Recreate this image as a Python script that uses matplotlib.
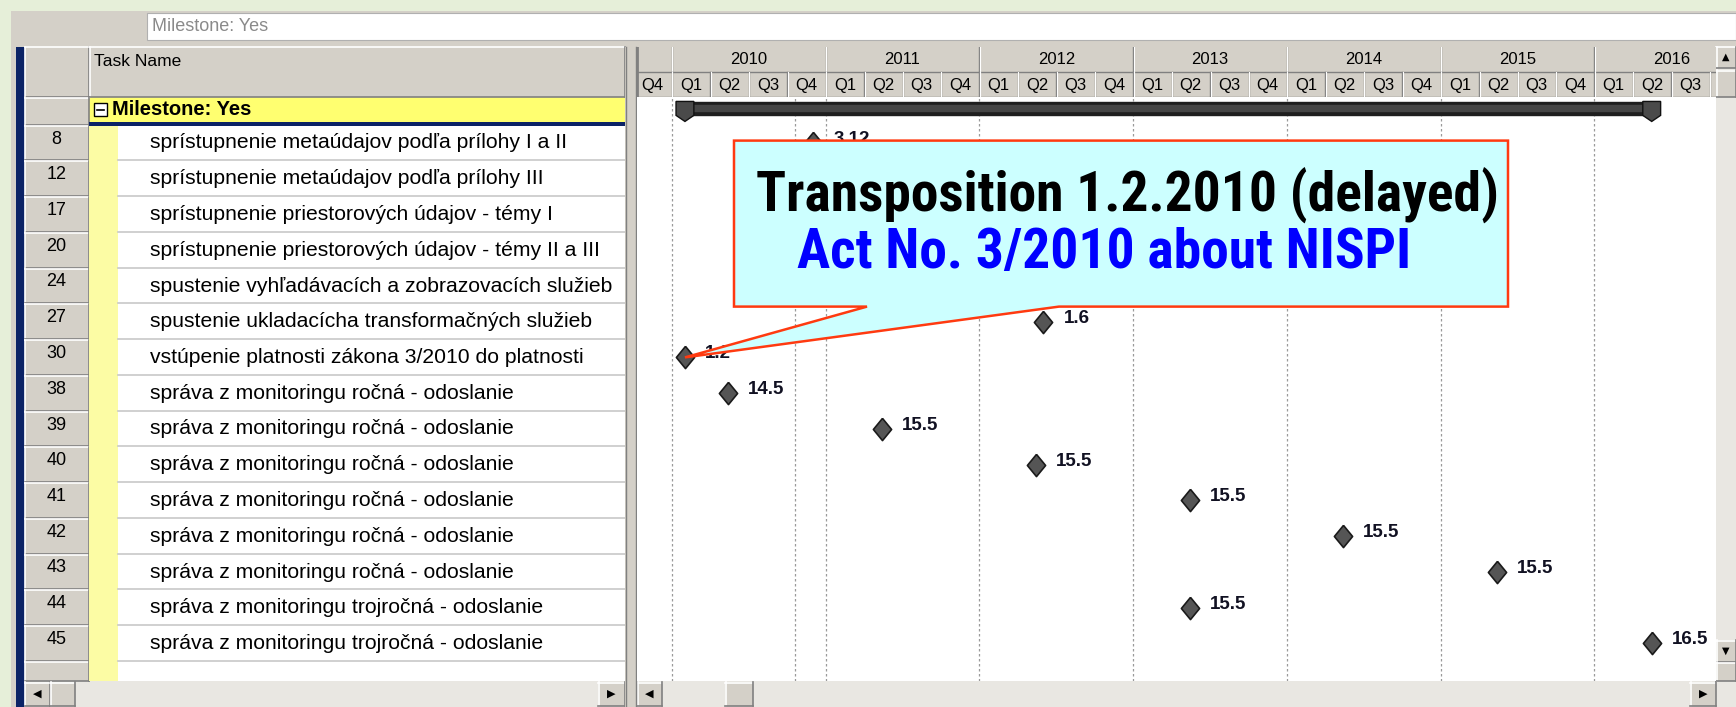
import datetime
import matplotlib
matplotlib.use("Agg")
import matplotlib.pyplot as plt
from matplotlib.patches import Rectangle, Polygon
from matplotlib import font_manager

# Task table (MS Project view, filter "Milestone: Yes")
task_ids = ["8", "12", "17", "20", "24", "27", "30", "38", "39", "40", "41", "42", "43", "44", "45"]
task_names = [
    "sprístupnenie metaúdajov podľa prílohy I a II",
    "sprístupnenie metaúdajov podľa prílohy III",
    "sprístupnenie priestorových údajov - témy I",
    "sprístupnenie priestorových údajov - témy II a III",
    "spustenie vyhľadávacích a zobrazovacích služieb",
    "spustenie ukladacícha transformačných služieb",
    "vstúpenie platnosti zákona 3/2010 do platnosti",
    "správa z monitoringu ročná - odoslanie",
    "správa z monitoringu ročná - odoslanie",
    "správa z monitoringu ročná - odoslanie",
    "správa z monitoringu ročná - odoslanie",
    "správa z monitoringu ročná - odoslanie",
    "správa z monitoringu ročná - odoslanie",
    "správa z monitoringu trojročná - odoslanie",
    "správa z monitoringu trojročná - odoslanie",
]
# milestone dates (rows 12-24 sit under the callout in the original)
ms_day = [3, 3, 23, 3, 9, 1, 1, 14, 15, 15, 15, 15, 15, 15, 16]
ms_month = [12, 12, 11, 12, 11, 6, 2, 5, 5, 5, 5, 5, 5, 5, 5]
ms_year = [2010, 2013, 2012, 2013, 2011, 2012, 2010, 2010, 2011, 2012, 2013, 2014, 2015, 2013, 2016]

years = [2010, 2011, 2012, 2013, 2014, 2015, 2016]
quarters = ["Q1", "Q2", "Q3", "Q4"]
status_date = 2010.80

group_label = "Milestone: Yes"
callout_line1 = "Transposition 1.2.2010 (delayed)"
callout_line2 = "Act No. 3/2010 about NISPI"

W, H = 1736, 707
GRAY = "#d4d0c8"
DARK = "#808080"

def to_year(d, m, y):
    dt = datetime.date(y, m, d)
    return y + (dt - datetime.date(y, 1, 1)).days / 365.25

ms_x = [to_year(d, m, y) for d, m, y in zip(ms_day, ms_month, ms_year)]
ms_lbl = [f"{d}.{m}" for d, m in zip(ms_day, ms_month)]

def pick_font(names):
    for n in names:
        try:
            font_manager.findfont(n, fallback_to_default=False)
            return n
        except Exception:
            pass
    return "DejaVu Sans"

UI_FONT = pick_font(["Liberation Sans", "Arial"])
NARROW = pick_font(["Liberation Sans Narrow", "Roboto Condensed", "Liberation Sans"])

fig = plt.figure(figsize=(W / 100, H / 100), dpi=100)
fig.patch.set_facecolor("#e6efd9")

# --- window chrome in pixel coords
bg = fig.add_axes([0, 0, 1, 1])
bg.set_xlim(0, W)
bg.set_ylim(H, 0)
bg.axis("off")

def rect(ax, x0, y0, x1, y1, fc, ec="none", lw=0, z=1):
    ax.add_patch(Rectangle((x0, y0), x1 - x0, y1 - y0, facecolor=fc, edgecolor=ec, lw=lw, zorder=z))

def button(ax, x0, y0, x1, y1, z=2):
    rect(ax, x0, y0, x1, y1, GRAY, z=z)
    ax.plot([x0, x1], [y0 + 0.5, y0 + 0.5], color="white", lw=1.2, zorder=z + 0.1)
    ax.plot([x0 + 0.5, x0 + 0.5], [y0, y1], color="white", lw=1.2, zorder=z + 0.1)
    ax.plot([x0, x1], [y1 - 0.5, y1 - 0.5], color=DARK, lw=1.2, zorder=z + 0.1)
    ax.plot([x1 - 0.5, x1 - 0.5], [y0, y1], color=DARK, lw=1.2, zorder=z + 0.1)

rect(bg, 11, 11, W, H, GRAY)
# filter box
rect(bg, 147, 13, W, 40, "white", ec="#b0b0b0", lw=0.8)
bg.text(152, 26.5, group_label, fontsize=13, color="#8a8a8a", va="center", family=UI_FONT)
# left navy bar
rect(bg, 15.5, 46.5, 24.5, H, "#0b2366", z=2)

# table header
button(bg, 24.5, 46.5, 89, 97.4)
button(bg, 89, 46.5, 625, 97.4)
bg.text(94, 54, "Task Name", fontsize=12.5, va="top", family=UI_FONT)

# group row
button(bg, 24.5, 97.4, 89, 125)
rect(bg, 89, 97.4, 625, 125, "#ffff70", z=2)
rect(bg, 89, 122, 625, 126, "#0b2366", z=3)
rect(bg, 94, 103, 107, 116, "white", ec="black", lw=1, z=4)
bg.plot([97, 104], [109.5, 109.5], color="black", lw=1.2, zorder=5)
bg.text(112, 109.5, group_label, fontsize=14.5, fontweight="bold", va="center", family=UI_FONT, zorder=5)

row_h = 35.75
row0 = 125
name_clip = Rectangle((89, 97), 536, 584, transform=bg.transData, fill=False, lw=0)
bg.add_patch(name_clip)
for k, (tid, name) in enumerate(zip(task_ids, task_names)):
    top = row0 + row_h * k
    button(bg, 24.5, top, 89, top + row_h)
    rect(bg, 89, top, 625, top + row_h, "white", z=2)
    rect(bg, 89, top, 118, top + row_h, "#fcfca4", z=2.5)
    bg.plot([118, 625], [top + row_h - 0.5] * 2, color="#c8c8c8", lw=1.2, zorder=3)
    bg.text(56.5, top + 14, tid, fontsize=13, ha="center", va="center", family=UI_FONT, zorder=4)
    t = bg.text(149.5, top + 18, name, fontsize=15.2, va="center", family=UI_FONT, zorder=4)
    t.set_clip_path(name_clip)

# empty row under the last task
top = row0 + row_h * len(task_ids)
button(bg, 24.5, top, 89, 681)
rect(bg, 89, top, 625, 681, "white", z=2)
rect(bg, 89, top, 118, 681, "#fcfca4", z=2.5)

# splitter between table and gantt
rect(bg, 625, 46.5, 637, H, GRAY, z=5)
bg.plot([626, 626], [46.5, H], color=DARK, lw=1, zorder=6)
bg.plot([636, 636], [46.5, H], color=DARK, lw=1, zorder=6)

# horizontal scrollbars
rect(bg, 24.5, 681, 625, H, "#e9e7e2", z=2)
button(bg, 24.5, 682, 50, H - 1, z=3)
button(bg, 50, 682, 75, H - 1, z=3)
button(bg, 598, 682, 625, H - 1, z=3)
bg.text(37, 694, "◀", fontsize=8, ha="center", va="center", zorder=5)
bg.text(611, 694, "▶", fontsize=8, ha="center", va="center", zorder=5)
rect(bg, 637, 681, 1716, H, "#e9e7e2", z=2)
button(bg, 637, 682, 662, H - 1, z=3)
button(bg, 725, 682, 753, H - 1, z=3)
button(bg, 1690, 682, 1716, H - 1, z=3)
bg.text(649, 694, "◀", fontsize=8, ha="center", va="center", zorder=5)
bg.text(1703, 694, "▶", fontsize=8, ha="center", va="center", zorder=5)

# vertical scrollbar
rect(bg, 1716, 46.5, W, H, "#e9e7e2", z=2)
button(bg, 1716, 46.5, W, 68, z=3)
button(bg, 1716, 70, W, 97, z=3)
button(bg, 1716, 640, W, 662, z=3)
button(bg, 1716, 662, W, 681, z=3)
bg.text(1726, 57, "▲", fontsize=7, ha="center", va="center", zorder=5)
bg.text(1726, 651, "▼", fontsize=7, ha="center", va="center", zorder=5)

# --- gantt area, x in years
px_per_year = 153.76
x_left = 2010 - (671.9 - 636.5) / px_per_year
x_right = 2010 + (1716 - 671.9) / px_per_year

def fx(px):
    return px / W

def fy(py):
    return 1 - py / H

hdr = fig.add_axes([fx(636.5), fy(97.4), fx(1716 - 636.5), (97.4 - 46.5) / H])
hdr.set_xlim(x_left, x_right)
hdr.set_ylim(0, 2)
hdr.set_facecolor(GRAY)
hdr.set_xticks([])
hdr.set_yticks([])
for s in hdr.spines.values():
    s.set_visible(False)
hdr.axhline(1, color=DARK, lw=1)
hdr.axhline(0.02, color=DARK, lw=1)
hdr.axvline(x_left, color=DARK, lw=2)
for y in years + [2017]:
    hdr.plot([y, y], [1, 2], color=DARK, lw=1)
    hdr.plot([y + 0.003, y + 0.003], [1, 2], color="white", lw=0.8)
for y in years:
    hdr.text(y + 0.5, 1.5, str(y), fontsize=12, ha="center", va="center", family=UI_FONT)
q_pos = [2009.75] + [y + i * 0.25 for y in years for i in range(4)]
q_lab = ["Q4"] + [q for y in years for q in quarters]
for qx, ql in zip(q_pos, q_lab):
    hdr.plot([qx + 0.25, qx + 0.25], [0, 1], color=DARK, lw=1)
    hdr.plot([qx + 0.253, qx + 0.253], [0, 1], color="white", lw=0.8)
    if qx + 0.2 < x_right:
        hdr.text(qx + 0.125, 0.48, ql, fontsize=12, ha="center", va="center", family=UI_FONT)

ax = fig.add_axes([fx(636.5), fy(681), fx(1716 - 636.5), (681 - 97.4) / H])
ax.set_xlim(x_left, x_right)
ax.set_ylim((681 - 142.9) / row_h, (97.4 - 142.9) / row_h)
ax.set_facecolor("white")
ax.set_xticks([])
ax.set_yticks([])
for s in ax.spines.values():
    s.set_visible(False)

for y in years:
    ax.axvline(y, color="#9a9a9a", lw=0.9, ls=(0, (2, 2)), zorder=1)
ax.axvline(status_date, color="#9a9a9a", lw=0.9, ls=(0, (2, 2)), zorder=1)

# summary bar on the group row
x0, x1 = min(ms_x), max(ms_x)
cap = 0.058
ax.fill_between([x0, x1], -1.14, -0.79, color="#1e1e1e", zorder=3)
ax.fill_between([x0, x1], -1.06, -0.9, color="#454545", zorder=3)
for xc in (x0, x1):
    ax.fill([xc - cap, xc + cap, xc + cap, xc, xc - cap],
            [-1.16, -1.16, -0.77, -0.6, -0.77], color="#4a4a4a", ec="#111111", lw=1, zorder=4)

# milestones
diamond = [(0, 1), (0.82, 0), (0, -1), (-0.82, 0), (0, 1)]
for k, (mx, lbl) in enumerate(zip(ms_x, ms_lbl)):
    ax.plot(mx, k, marker=diamond, ms=16, mfc="#555555", mec="#1a1a1a", mew=1.2, zorder=5)
    ax.text(mx + 0.13, k - 0.1, lbl, fontsize=13.5, fontweight="bold", va="center",
            color="#111122", family=UI_FONT, zorder=5)

# --- callout over the gantt, pointing at the law milestone
top_ax = fig.add_axes([0, 0, 1, 1], zorder=10)
top_ax.set_xlim(0, W)
top_ax.set_ylim(H, 0)
top_ax.axis("off")
top_ax.patch.set_alpha(0)

law_row = task_ids.index("30")
tip = top_ax.transData.inverted().transform(ax.transData.transform((ms_x[law_row], law_row)))
bx0, by0, bx1, by1 = 734, 140.6, 1508, 306.6
callout = Polygon([(bx0, by0), (bx1, by0), (bx1, by1), (1059, by1), tuple(tip), (867, by1), (bx0, by1)],
                  closed=True, facecolor="#ccffff", edgecolor="#ff3a10", lw=1.8, zorder=2)
top_ax.add_patch(callout)
top_ax.text(1127, 196, callout_line1, fontsize=40, fontweight="bold", ha="center", va="center",
            family=NARROW, zorder=3)
top_ax.text(797, 253, callout_line2, fontsize=40, fontweight="bold", color="#0000ff",
            ha="left", va="center", family=NARROW, zorder=3)

fig.savefig("out.png", dpi=100)
